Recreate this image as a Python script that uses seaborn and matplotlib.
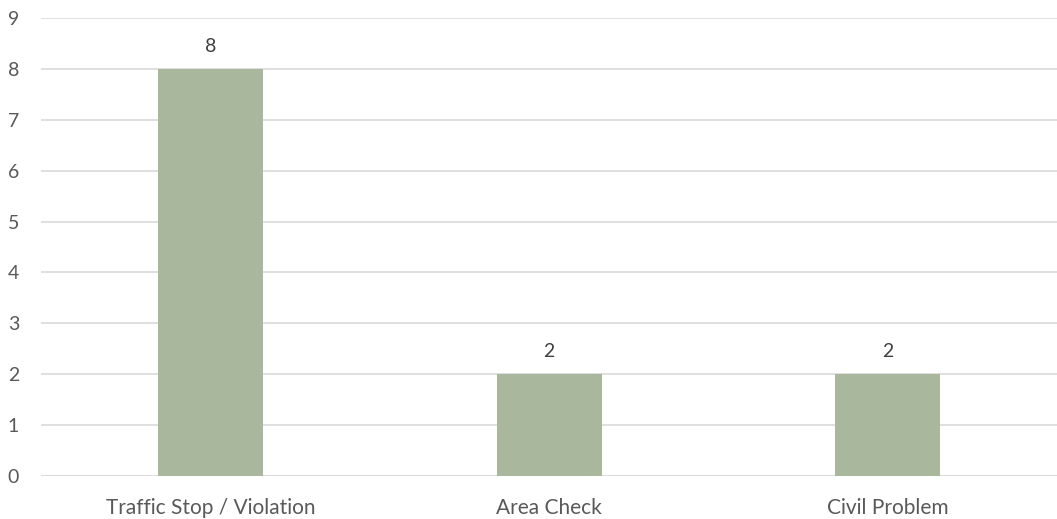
import matplotlib
matplotlib.use("Agg")
import matplotlib.pyplot as plt
import seaborn as sns
import pandas as pd

categories = ["Traffic Stop / Violation", "Area Check", "Civil Problem"]
counts = [8, 2, 2]
y_ticks = list(range(0, 10))

BAR_COLOR = "#A9B89C"
TEXT_COLOR = "#595959"
GRID_COLOR = "#D9D9D9"

sns.set_theme(style="white")
plt.rcParams["font.family"] = ["Lato", "DejaVu Sans"]

df = pd.DataFrame({"category": categories, "count": counts})

fig = plt.figure(figsize=(10.57, 5.19), dpi=100)
ax = fig.add_axes([0.039, 0.083, 0.961, 0.882])

sns.barplot(data=df, x="category", y="count", color=BAR_COLOR,
            width=0.31, saturation=1, linewidth=0, ax=ax, zorder=3)

ax.set_ylim(0, 9)
ax.set_yticks(y_ticks)
ax.set_xlim(-0.5, len(categories) - 0.5)
ax.yaxis.grid(True, color=GRID_COLOR, linewidth=1.2, zorder=0)
ax.set_axisbelow(True)
for side in ["top", "right", "left", "bottom"]:
    ax.spines[side].set_visible(False)
ax.axhline(0, color=GRID_COLOR, linewidth=1.2, zorder=1)

ax.set_xlabel("")
ax.set_ylabel("")
ax.tick_params(axis="both", length=0, labelsize=14, colors=TEXT_COLOR)
ax.tick_params(axis="x", labelsize=15, pad=16)
ax.tick_params(axis="y", pad=16)

for container in ax.containers:
    ax.bar_label(container, labels=[str(v) for v in counts], padding=10,
                 fontsize=14, color="#404040")

fig.savefig("out.png", dpi=100)
